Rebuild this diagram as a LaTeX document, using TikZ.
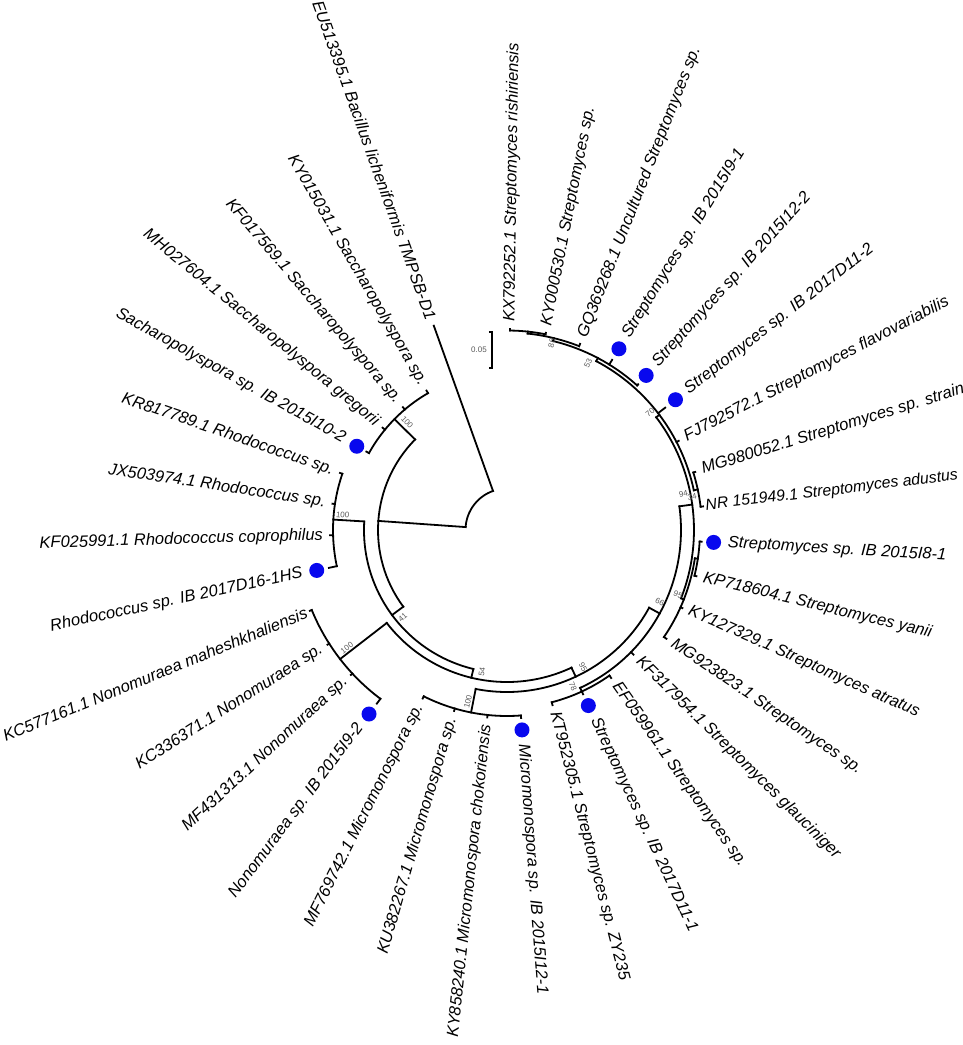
\documentclass[tikz,border=0pt]{standalone}
\usepackage{fontspec}
\setmainfont{Liberation Sans}
\definecolor{dotblue}{RGB}{8,8,238}
% r, start angle, end angle
\newcommand{\brArc}[3]{\draw[br] (#2:#1pt) arc[start angle=#2,end angle=#3,radius=#1pt];}
% angle, r1, r2
\newcommand{\brRad}[3]{\draw[br] (#1:#2pt) -- (#1:#3pt);}
% name, angle, r, text
\newcommand{\labR}[4]{\node[leaflab,rotate=#2,anchor=west] (#1) at (#2:#3pt) {#4};}
\newcommand{\labL}[4]{\node[leaflab,rotate=#2-180,anchor=east] (#1) at (#2:#3pt) {#4};}
\newcommand{\bsR}[4]{\node[bs,rotate=#2] (#1) at (#2:#3pt) {#4};}
\newcommand{\bsL}[4]{\node[bs,rotate=#2-180] (#1) at (#2:#3pt) {#4};}
\newcommand{\bdot}[3]{\node[bluedot] (#1) at (#2:#3pt) {};}
\begin{document}
\begin{tikzpicture}[x=1pt,y=1pt,
  br/.style={line width=1.8pt,line cap=rect},
  leaflab/.style={font=\fontsize{16.5}{19}\selectfont\itshape,inner sep=0pt},
  bs/.style={font=\fontsize{8}{9}\selectfont,text=black!65,inner sep=0pt},
  bluedot/.style={circle,fill=dotblue,minimum size=15pt,inner sep=0pt}]
\useasboundingbox (-507,-515) rectangle (456,530);
% ---- root ----
\brArc{41.5}{109.71}{175.96}
\brRad{109.71}{41.5}{217}
\brRad{175.96}{41.5}{129}
% ---- ingroup N1 ----
\brArc{129}{135.43}{216.49}
% Saccharopolyspora
\brRad{135.43}{129}{158}
\brArc{158}{120}{150.86}
\brRad{120}{158}{161}
\brRad{130.29}{158}{161}
\brRad{140.57}{158}{161}
\brRad{150.86}{158}{161}
% Y (41)
\brRad{216.49}{129}{143}
\brArc{143}{176.57}{256.41}
% Rhodococcus
\brRad{176.57}{143}{174}
\brArc{174}{161.14}{192}
\brRad{161.14}{174}{176.5}
\brRad{171.43}{174}{176.5}
\brRad{181.71}{174}{177}
\brRad{192}{174}{182}
% W (54)
\brRad{256.41}{143}{152}
\brArc{152}{217.71}{295.1}
% Nonomuraea
\brRad{217.71}{152}{211}
\brArc{211}{202.29}{233.14}
\brRad{202.29}{211}{213}
\brRad{212.57}{211}{213}
\brRad{222.86}{211}{213}
\brRad{233.14}{211}{217}
% V (95)
\brRad{295.1}{152}{162}
\brArc{162}{258.86}{331.34}
% Micromonospora
\brRad{258.86}{162}{186}
\brArc{186}{243.43}{274.29}
\brRad{243.43}{186}{188.5}
\brRad{253.71}{186}{188.5}
\brRad{264}{186}{188.5}
\brRad{274.29}{186}{188.5}
% S (66)
\brRad{331.34}{162}{174}
\brArc{174}{294.86}{367.82}
% L (78)
\brRad{294.86}{174}{178}
\brArc{178}{284.57}{305.14}
\brRad{284.57}{178}{181}
\brRad{294.86}{178}{181}
\brRad{305.14}{178}{181}
\brRad{315.43}{174}{177.5}
% U (94)
\brRad{367.82}{174}{187}
\brArc{187}{338.57}{397.07}
% Ulow (95)
\brRad{338.57}{187}{190}
\brArc{190}{325.71}{351.43}
\brRad{325.71}{190}{193}
\brRad{336}{190}{192}
\brRad{351.43}{190}{193}
\brArc{193}{346.29}{356.57}
\brRad{346.29}{193}{195}
\brRad{356.57}{193}{195}
% Uhigh (70)
\brRad{397.07}{187}{191}
\brArc{191}{372}{422.14}
\brRad{372}{191}{195}
\brArc{195}{366.86}{377.14}
\brRad{366.86}{195}{197.5}
\brRad{377.14}{195}{197}
\brRad{387.43}{191}{193.5}
\brRad{397.71}{191}{200}
% node 53
\brRad{422.14}{191}{194.5}
\brArc{194.5}{408}{436.29}
\brRad{408}{194.5}{196}
\brRad{418.29}{194.5}{200}
% node 86
\brRad{436.29}{194.5}{197.5}
\brArc{197.5}{428.57}{444}
\brRad{428.57}{197.5}{200}
\brRad{444}{197.5}{199.5}
\brArc{199.5}{438.86}{449.14}
\brRad{438.86}{199.5}{201}
\brRad{449.14}{199.5}{201}
% ---- blue dots ----
\bdot{d1}{150.86}{172}
\bdot{d2}{192}{194.5}
\bdot{d3}{233.14}{230}
\bdot{d4}{274.29}{200.5}
\bdot{d5}{294.86}{193.5}
\bdot{d6}{356.57}{207}
\bdot{d7}{397.71}{213}
\bdot{d8}{408}{208}
\bdot{d9}{418.29}{213}
% ---- leaf labels ----
\labL{tB}{109.71}{224}{EU513395.1 Bacillus licheniformis TMPSB-D1}
\labL{t0}{120}{168}{KY015031.1 Saccharopolyspora sp.}
\labL{t1}{130.29}{168}{KF017569.1 Saccharopolyspora sp.}
\labL{t2}{140.57}{168}{MH027604.1 Saccharopolyspora gregorii}
\labL{t3}{150.86}{186}{Sacharopolyspora sp. IB 2015I10-2}
\labL{t4}{161.14}{183.5}{KR817789.1 Rhodococcus sp.}
\labL{t5}{171.43}{183.5}{JX503974.1 Rhodococcus sp.}
\labL{t6}{181.71}{184}{KF025991.1 Rhodococcus coprophilus}
\labL{t7}{192}{209}{Rhodococcus sp. IB 2017D16-1HS}
\labL{t8}{202.29}{216.5}{KC577161.1 Nonomuraea maheshkhaliensis}
\labL{t9}{212.57}{220}{KC336371.1 Nonomuraea sp.}
\labL{t10}{222.86}{220}{MF431313.1 Nonomuraea sp.}
\labL{t11}{233.14}{244}{Nonomuraea sp. IB 2015I9-2}
\labL{t12}{243.43}{195.5}{MF769742.1 Micromonospora sp.}
\labL{t13}{253.71}{195.5}{KU382267.1 Micromonospora sp.}
\labL{t14}{264}{195.5}{KY858240.1 Micromonospora chokoriensis}
\labR{t15}{274.29}{215}{Micromonospora sp. IB 2015I12-1}
\labR{t16}{284.57}{188}{KT952305.1 Streptomyces sp. ZY235}
\labR{t17}{294.86}{208}{Streptomyces sp. IB 2017D11-1}
\labR{t18}{305.14}{188}{EF059961.1 Streptomyces sp.}
\labR{t19}{315.43}{184.5}{KF317954.1 Streptomyces glauciniger}
\labR{t20}{325.71}{200}{MG923823.1 Streptomyces sp.}
\labR{t21}{336}{199}{KY127329.1 Streptomyces atratus}
\labR{t22}{346.29}{202}{KP718604.1 Streptomyces yanii}
\labR{t23}{356.57}{221}{Streptomyces sp. IB 2015I8-1}
\node[leaflab,font=\fontsize{15.8}{19}\selectfont\itshape,rotate=366.86,anchor=west] (t24) at (366.86:200pt) {NR 151949.1 Streptomyces adustus};
\labR{t25}{377.14}{204}{MG980052.1 Streptomyces sp. strain}
\labR{t26}{387.43}{200.5}{FJ792572.1 Streptomyces flavovariabilis}
\labR{t27}{397.71}{227}{Streptomyces sp. IB 2017D11-2}
\labR{t28}{408}{222}{Streptomyces sp. IB 2015I12-2}
\labR{t29}{418.29}{227}{Streptomyces sp. IB 2015I9-1}
\labR{t30}{428.57}{207}{GQ369268.1 Uncultured Streptomyces sp.}
\labR{t31}{438.86}{208}{KY000530.1 Streptomyces sp.}
\labR{t32}{449.14}{208}{KX792252.1 Streptomyces rishiriensis}
% ---- bootstrap values ----
\bsL{b1}{132.8}{147}{100}
\bsL{b2}{174.8}{165}{100}
\bsL{b3}{219.9}{136}{41}
\bsL{b4}{216.4}{199}{100}
\bsL{b5}{260}{144}{54}
\bsL{b6}{257.2}{176}{100}
\bsR{b7}{299}{157}{95}
\bsR{b8}{292.8}{170}{78}
\bsR{b9}{334.8}{169}{66}
\bsR{b10}{339.2}{183}{95}
\bsR{b11}{11.6}{180}{94}
\bsR{b12}{10.1}{188}{34}
\bsR{b13}{39.3}{185}{70}
\bsR{b14}{64.1}{185.6}{53}
\bsR{b15}{76.5}{192}{86}
% ---- scale bar ----
\coordinate (sbt) at (-15,198);
\coordinate (sbb) at (-15,162);
\draw[line width=1.2pt] ([xshift=-3pt]sbt) -- (sbt) -- (sbb) -- ([xshift=-3pt]sbb);
\node[bs,anchor=east] (sbl) at (-20,180) {0.05};
\end{tikzpicture}
\end{document}
